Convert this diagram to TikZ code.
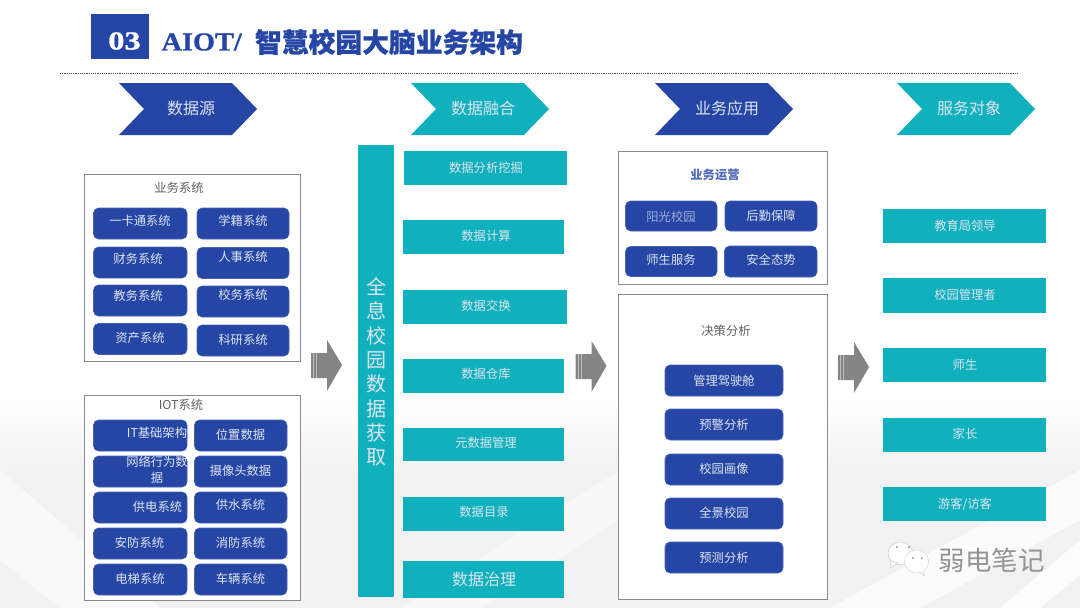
\documentclass[tikz,border=0pt]{standalone}
\usepackage{fontspec}
\setmainfont{Noto Sans CJK SC}
\newfontfamily\latinserif{Liberation Serif}[BoldFeatures={FakeBold=0.8}]
\newfontfamily\heavycjk{Noto Sans CJK SC}[BoldFeatures={FakeBold=0.8}]
\usetikzlibrary{calc}
\definecolor{navy}{HTML}{2646A6}
\definecolor{tealc}{HTML}{10B1BD}
\definecolor{lighttext}{HTML}{DDE4F2}
\definecolor{frameline}{HTML}{888A8E}
\definecolor{arrowgrey}{HTML}{858585}
\tikzset{
  every node/.style={inner sep=0pt,outer sep=0pt},
  blockbase/.style={anchor=center},
  bluebtn/.style={blockbase,fill=navy,rounded corners=5pt,draw=navy!85!white,line width=0.6pt},
  tealbtn/.style={blockbase,fill=tealc},
  framebox/.style={blockbase,fill=white,draw=frameline,line width=0.9pt},
  lbl/.style={text=lighttext,font=\fontsize{12.3}{15}\selectfont,align=center},
  darklbl/.style={text=black!62,font=\fontsize{12.3}{15}\selectfont,align=center},
  chevtxt/.style={text=lighttext,font=\fontsize{16}{18}\selectfont},
}
% \boxy{style}{name}{x1}{y1}{x2}{y2}
\newcommand\boxy[6]{%
  \node[#1,minimum width={(#5-#3)*1pt},minimum height={(#6-#4)*1pt}] (#2) at ({(#3+#5)/2},{(#4+#6)/2}) {};}
% \btn{style}{name}{x1}{y1}{x2}{y2}{tx}{ty}{text}
\newcommand\btn[9][lbl]{\btnA{#1}{#2}{#3}{#4}{#5}{#6}{#7}{#8}{#9}}
\newcommand\btnA[9]{%
  \boxy{#2}{#3}{#4}{#5}{#6}{#7}\btnB{#1}{#3}{#8}{#9}}
\newcommand\btnB[4]{\def\btnstyle{#1}\def\btnname{#2}\def\btnx{#3}\def\btny{#4}\btnC}
\newcommand\btnC[1]{\node[\btnstyle] (\btnname-t) at (\btnx,\btny) {#1};}
% chevron
\newcommand\chev[4]{%
  \fill[#3] (#2,83) -- ({#2+113},83) -- ({#2+138},109) -- ({#2+113},135) -- (#2,135) -- ({#2+25},109) -- cycle;
  \node[chevtxt] (#1) at ({#2+72},108) {#4};}
% grey block arrow
\newcommand\grarrow[2]{%
  \begin{scope}[shift={(#1,#2)}]
    \fill[arrowgrey] (0,13) -- (16,13) -- (16,0) -- (31,25) -- (16,51) -- (16,38) -- (0,38) -- cycle;
    \fill[white!45!arrowgrey] (2,13) rectangle (3,38);
    \fill[white!45!arrowgrey] (5,13) rectangle (6,38);
  \end{scope}}
\begin{document}
\begin{tikzpicture}[x=1pt,y=-1pt]
\useasboundingbox (0,0) rectangle (1080,608);
% background
\fill[white] (0,0) rectangle (1080,608);
\shade[top color=white,bottom color=black!5] (0,400) rectangle (1080,470);
\fill[black!5] (0,470) rectangle (1080,608);
\fill[white,opacity=.6] (0,400) -- (0,470) -- (160,608) -- (60,608) -- (0,560) -- cycle;
\fill[white,opacity=.7] (830,608) -- (1080,470) -- (1080,520) -- (920,608) -- cycle;
\fill[white,opacity=.8] (1000,608) -- (1080,540) -- (1080,575) -- (1040,608) -- cycle;
\fill[white,opacity=.5] (400,608) -- (620,470) -- (620,520) -- (480,608) -- cycle;
% header
\node[fill=navy,minimum width=58pt,minimum height=45pt] (badge) at (120,36.5) {};
\node[text=white,font=\latinserif\bfseries\fontsize{26}{28}\selectfont,xscale=1.25] (badgetxt) at (124.5,41) {03};
\node[anchor=west,text=navy,font=\latinserif\bfseries\fontsize{26}{28}\selectfont,xscale=1.09] (titlea) at (161.5,42) {AIOT/};
\node[anchor=west,text=navy,font=\heavycjk\bfseries\fontsize{26.8}{28}\selectfont] (titleb) at (255,42) {智慧校园大脑业务架构};
\coordinate (ruleL) at (60,73.5);
\coordinate (ruleR) at (1018,73.5);
\draw[black!70,line width=1pt,dash pattern=on 1.2pt off 1pt] (ruleL) -- (ruleR);
% chevrons
\chev{chA}{119}{navy}{数据源}
\chev{chB}{411}{tealc}{数据融合}
\chev{chC}{655}{navy}{业务应用}
\chev{chD}{897}{tealc}{服务对象}
% frames
\boxy{framebox}{fA}{84}{174.5}{300}{361}
\boxy{framebox}{fB}{84}{395}{300}{600}
\boxy{framebox}{fC}{618}{151.5}{827}{284}
\boxy{framebox}{fD}{618}{294}{827}{599}
\node[darklbl] (fAt) at (179,188) {业务系统};
\node[darklbl] (fBt) at (181,405) {IOT系统};
\node[text=navy!80!white,font=\bfseries\fontsize{12.3}{15}\selectfont] (fCt) at (715,175) {业务运营};
\node[darklbl] (fDt) at (726,331) {决策分析};
% business systems
\btn{bluebtn}{a1}{93.5}{208}{187}{239}{140}{221}{一卡通系统}
\btn{bluebtn}{a2}{197}{208}{289}{239}{243}{221}{学籍系统}
\btn{bluebtn}{a3}{93.5}{247}{187}{278}{138}{259}{财务系统}
\btn{bluebtn}{a4}{197}{247.5}{289}{278.5}{243}{257}{人事系统}
\btn{bluebtn}{a5}{93.5}{285}{187}{316}{138}{296}{教务系统}
\btn{bluebtn}{a6}{197}{286}{289}{317}{243}{295}{校务系统}
\btn{bluebtn}{a7}{93.5}{323.5}{187}{354.5}{140}{338}{资产系统}
\btn{bluebtn}{a8}{197}{325}{289}{356}{243}{340}{科研系统}
% IOT systems
\btn{bluebtn}{b1}{93.5}{420}{187}{451}{157}{433}{IT基础架构}
\btn{bluebtn}{b2}{194.5}{420}{287}{451}{240.5}{435}{位置数据}
\btn{bluebtn}{b3}{93.5}{456}{187}{487}{157}{470}{网络行为数\\[1pt]据}
\btn{bluebtn}{b4}{194.5}{456}{287}{487}{240.5}{471}{摄像头数据}
\btn{bluebtn}{b5}{93.5}{492}{187}{523}{157.5}{507}{供电系统}
\btn{bluebtn}{b6}{194.5}{492}{287}{523}{240.5}{505}{供水系统}
\btn{bluebtn}{b7}{93.5}{528}{187}{559}{139.5}{543}{安防系统}
\btn{bluebtn}{b8}{194.5}{528}{287}{559}{240.5}{543}{消防系统}
\btn{bluebtn}{b9}{93.5}{564}{187}{595}{140}{579}{电梯系统}
\btn{bluebtn}{b10}{194.5}{564}{287}{595}{240.5}{579}{车辆系统}
% arrows
\grarrow{311}{340}
\grarrow{575.5}{341}
\grarrow{838}{342}
% central bar
\boxy{tealbtn}{bar}{358}{145}{394}{597}
\node[text=lighttext,font=\fontsize{20}{24.3}\selectfont,align=center] (bart) at (376,372) {全\\息\\校\\园\\数\\据\\获\\取};
% fusion boxes
\btn{tealbtn}{c1}{404}{151}{567}{185}{486}{168}{数据分析挖掘}
\btn{tealbtn}{c2}{403}{220}{564}{254}{486}{236}{数据计算}
\btn{tealbtn}{c3}{403}{290}{567}{324}{486}{306}{数据交换}
\btn{tealbtn}{c4}{403}{359}{564}{393}{486}{374}{数据仓库}
\btn{tealbtn}{c5}{403}{428}{564}{461}{486}{443}{元数据管理}
\btn{tealbtn}{c6}{403}{497}{564}{531}{484}{512}{数据目录}
\boxy{tealbtn}{c7}{403}{561}{564}{598}
\node[text=lighttext,font=\fontsize{16}{18}\selectfont] (c7t) at (484,579) {数据治理};
% operations
\boxy{bluebtn}{d1}{625.5}{201}{717}{231}
\node[text=navy!45!white,font=\fontsize{12.3}{15}\selectfont] (d1t) at (671,217) {阳光校园};
\btn{bluebtn}{d2}{725}{201}{817}{231}{771}{216}{后勤保障}
\btn{bluebtn}{d3}{625.5}{246.5}{717}{276.5}{671}{260}{师生服务}
\btn{bluebtn}{d4}{724.5}{246}{817}{277}{771}{260}{安全态势}
% decision
\btn{bluebtn}{e1}{665}{365}{783}{396}{724}{381}{管理驾驶舱}
\btn{bluebtn}{e2}{665}{409}{783}{440}{724}{425}{预警分析}
\btn{bluebtn}{e3}{665}{454}{783}{485}{724}{469}{校园画像}
\btn{bluebtn}{e4}{665}{498}{783}{529}{724}{513}{全景校园}
\btn{bluebtn}{e5}{665}{542}{783}{573}{724}{558}{预测分析}
% audience
\btn{tealbtn}{g1}{883}{209}{1046}{243}{965}{226}{教育局领导}
\btn{tealbtn}{g2}{883}{278}{1046}{313}{965}{295}{校园管理者}
\btn{tealbtn}{g3}{883}{348}{1046}{382}{965}{365}{师生}
\btn{tealbtn}{g4}{883}{418}{1046}{452}{965}{434}{家长}
\btn{tealbtn}{g5}{883}{487}{1046}{521}{965}{504}{游客/访客}
% watermark
\begin{scope}[draw=black!18,fill=white,line width=.6pt]
  \filldraw (900.5,553.5) ellipse (12.5 and 11.5);
  \filldraw (891,561) -- (890,568) -- (898,563) -- cycle;
  \filldraw (916.5,561.5) ellipse (12 and 11.5);
  \filldraw (919,570) -- (924,576) -- (924,567) -- cycle;
  \fill[white] (916.5,561.5) ellipse (11.6 and 11.1);
  \fill[black!40] (897,547) circle (1.1) (909,547) circle (1.1) (913,558) circle (1.1) (922,558) circle (1.1);
\end{scope}
\node[text=black!42,font=\fontsize{26.5}{28}\selectfont] (wm) at (991.5,560) {弱电笔记};
\end{tikzpicture}
\end{document}
